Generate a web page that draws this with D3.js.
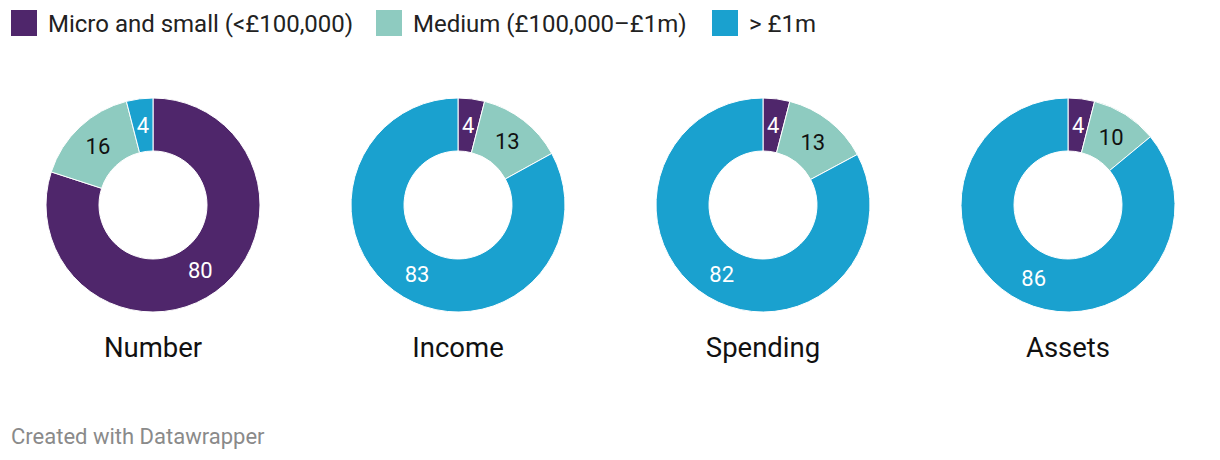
<!DOCTYPE html>
<html><head><meta charset="utf-8">
<script src="https://cdn.jsdelivr.net/npm/d3@7"></script>
<style>body{margin:0;background:#fff;font-family:Roboto,"Noto Sans",sans-serif;}</style>
</head><body>
<svg id="c" width="1220" height="460"></svg>
<script>
const seriesNames = ["Micro and small (<£100,000)", "Medium (£100,000–£1m)", "> £1m"];
const colors = ["#4f266b", "#8ecbc0", "#1aa1cf"];
const labelColors = ["#fff", "#111", "#fff"];
const categories = ["Number", "Income", "Spending", "Assets"];
const microSmall = [80, 4, 4, 4];
const medium = [16, 13, 13, 10];
const large = [4, 83, 82, 86];

const svg = d3.select("#c");
const font = "Roboto, 'Noto Sans', sans-serif";

// legend
const legendX = [11, 376, 712];
seriesNames.forEach((n, i) => {
  const g = svg.append("g").attr("transform", `translate(${legendX[i]},10)`);
  g.append("rect").attr("width", 26).attr("height", 26).attr("fill", colors[i]);
  g.append("text").attr("x", 37).attr("y", 22).attr("font-family", font)
    .attr("font-size", 24).attr("fill", "#222").text(n);
});

const x = d3.scalePoint().domain(categories).range([153, 1068]);
const outerR = 107, innerR = 54, cy = 205;
const pie = d3.pie().sort(null).value(d => d.v);
const arc = d3.arc().innerRadius(innerR).outerRadius(outerR);
const labelArc = d3.arc().innerRadius((innerR + outerR) / 2).outerRadius((innerR + outerR) / 2);

categories.forEach((c, ci) => {
  const data = [microSmall[ci], medium[ci], large[ci]].map((v, i) => ({v, i}));
  const g = svg.append("g").attr("transform", `translate(${x(c)},${cy})`);
  const arcs = pie(data);
  g.selectAll("path").data(arcs).join("path")
    .attr("d", arc).attr("fill", d => colors[d.data.i])
    .attr("stroke", "#fff").attr("stroke-width", 1);
  g.selectAll("text.v").data(arcs).join("text").attr("class", "v")
    .attr("transform", d => `translate(${labelArc.centroid(d)})`)
    .attr("text-anchor", "middle").attr("dy", "0.36em")
    .attr("font-family", font).attr("font-size", 22)
    .attr("fill", d => labelColors[d.data.i]).text(d => d.data.v);
  svg.append("text").attr("x", x(c)).attr("y", 357).attr("text-anchor", "middle")
    .attr("font-family", font).attr("font-size", 27.5).attr("fill", "#111").text(c);
});

svg.append("text").attr("x", 11).attr("y", 444).attr("font-family", font)
  .attr("font-size", 22).attr("fill", "#8a8a8a").text("Created with Datawrapper");
</script>
</body></html>
